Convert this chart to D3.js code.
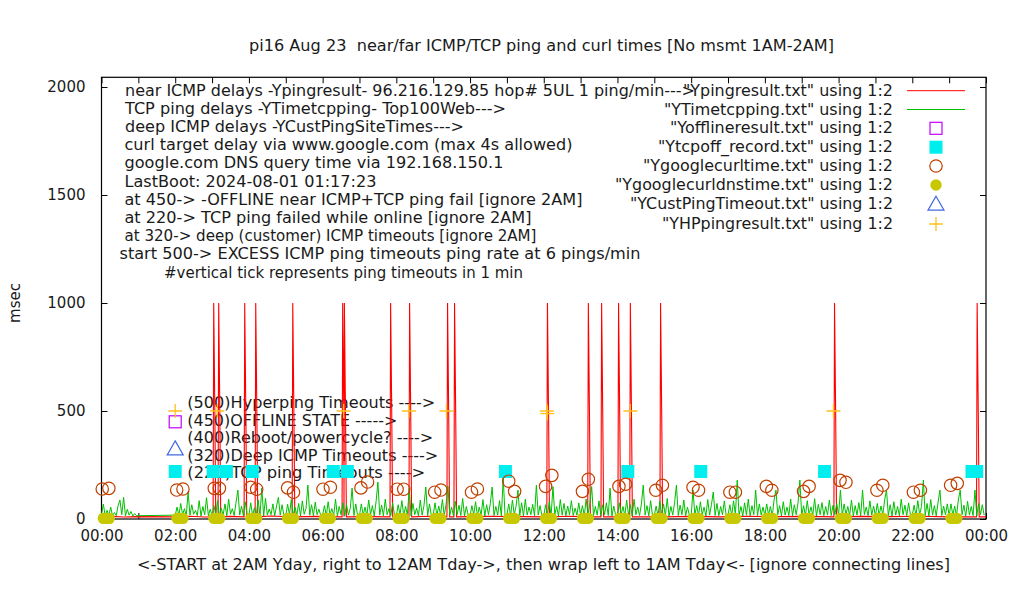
<!DOCTYPE html>
<html><head><meta charset="utf-8">
<script src="https://cdn.jsdelivr.net/npm/d3@7"></script>
<style>
body{margin:0;background:#fff}
svg{display:block}
text{font-family:"DejaVu Sans",sans-serif;font-size:15px;fill:#1a1a1a;white-space:pre}
</style>
</head><body><svg id="c" width="1020" height="600"></svg>
<script>
// ---------- DATA ----------
const titleText = "pi16 Aug 23  near/far ICMP/TCP ping and curl times [No msmt 1AM-2AM]";
const xLabelText = "<-START at 2AM Yday, right to 12AM Tday->, then wrap left to 1AM Tday<- [ignore connecting lines]";
const yLabelText = "msec";
const xTickLabels = ["00:00","02:00","04:00","06:00","08:00","10:00","12:00","14:00","16:00","18:00","20:00","22:00","00:00"];
const yTickValues = [0,500,1000,1500,2000];

const infoLines = [
  "near ICMP delays -Ypingresult- 96.216.129.85 hop# 5UL 1 ping/min--->",
  "TCP ping delays -YTimetcpping- Top100Web--->",
  "deep ICMP delays -YCustPingSiteTimes--->",
  "curl target delay via www.google.com (max 4s allowed)",
  "google.com DNS query time via 192.168.150.1",
  "LastBoot: 2024-08-01 01:17:23",
  "at 450-> -OFFLINE near ICMP+TCP ping fail [ignore 2AM]",
  "at 220-> TCP ping failed while online [ignore 2AM]",
  "at 320-> deep (customer) ICMP timeouts [ignore 2AM]",
  "start 500-> EXCESS ICMP ping timeouts ping rate at 6 pings/min",
  "#vertical tick represents ping timeouts in 1 min"
];
const legendNames = [
  "\"Ypingresult.txt\" using 1:2",
  "\"YTimetcpping.txt\" using 1:2",
  "\"Yofflineresult.txt\" using 1:2",
  "\"Ytcpoff_record.txt\" using 1:2",
  "\"Ygooglecurltime.txt\" using 1:2",
  "\"Ygooglecurldnstime.txt\" using 1:2",
  "\"YCustPingTimeout.txt\" using 1:2",
  "\"YHPpingresult.txt\" using 1:2"
];
const levelLabels = [
  "(500)Hyperping Timeouts ---->",
  "(450)OFFLINE STATE ----->",
  "(400)Reboot/powercycle? ---->",
  "(320)Deep ICMP Timeouts ---->",
  "(220)TCP ping Timeouts ---->"
];

// near ICMP ping delays [hour, msec]
const nearIcmp = [
 [0.00,10],[0.30,12],[0.60,9],[0.95,11],[2.00,10],[2.40,13],[2.80,9],
 [3.028,10],[3.045,1000],[3.075,500],[3.100,10],
 [3.163,10],[3.180,1000],[3.210,500],[3.235,10],
 [3.50,12],
 [3.869,10],[3.886,1000],[3.916,500],[3.941,10],
 [4.168,10],[4.185,1000],[4.215,500],[4.240,10],
 [4.60,14],
 [5.173,10],[5.190,1000],[5.220,500],[5.245,10],
 [5.80,12],
 [6.527,10],[6.544,1000],[6.574,500],[6.580,10],[6.590,1000],[6.620,500],[6.645,10],
 [7.20,11],
 [7.828,10],[7.845,1000],[7.875,500],[7.900,10],
 [8.343,10],[8.360,1000],[8.390,500],[8.415,10],
 [8.90,13],
 [9.373,10],[9.390,1000],[9.420,500],[9.445,10],
 [9.563,10],[9.580,1000],[9.610,500],[9.635,10],
 [10.50,12],[11.40,11],
 [12.083,10],[12.100,1000],[12.130,500],[12.155,10],
 [12.70,13],
 [13.193,10],[13.210,1000],[13.240,500],[13.265,10],
 [13.553,10],[13.570,1000],[13.600,500],[13.625,10],
 [14.013,10],[14.030,1000],[14.060,500],[14.085,10],
 [14.333,10],[14.350,1000],[14.380,500],[14.405,10],
 [15.153,10],[15.170,1000],[15.200,500],[15.225,10],
 [16.00,12],[16.80,10],[17.50,13],[18.30,11],[19.20,12],
 [19.873,10],[19.890,1000],[19.920,500],[19.945,10],
 [20.60,12],[21.40,11],[22.20,13],[23.00,10],
 [23.743,10],[23.760,1000],[23.790,500],[23.815,10],
 [24.00,10]
];

// TCP ping delays, one row per measured hour, samples every 3 minutes
const tcpHours = [0,2,3,4,5,6,7,8,9,10,11,12,13,14,15,16,17,18,19,20,21,22,23];
const tcpRows = [
 [22,69,15,40,18,55,14,30,16,62,88,20,100,15,45,18,35,14,25,15],
 [18,55,16,72,20,48,15,126,18,66,22,40,16,85,14,58,20,99,15,45],
 [16,62,20,85,14,50,18,70,15,92,22,48,16,76,134,18,60,15,80,20],
 [18,75,15,52,20,88,16,143,14,96,18,46,20,70,15,60,100,18,66,16],
 [15,68,20,90,16,55,18,72,14,84,22,50,157,18,66,15,78,20,45,16],
 [18,62,15,80,20,48,16,92,14,58,20,75,15,66,18,50,143,16,70,15],
 [16,70,18,55,15,88,20,62,14,80,171,18,65,15,92,20,48,16,75,18],
 [15,66,20,85,16,58,18,143,14,72,20,50,15,88,18,62,148,16,70,15],
 [18,75,15,60,20,90,16,68,152,18,55,15,82,20,64,16,95,14,58,18],
 [16,62,20,80,15,55,18,90,14,66,20,72,148,16,58,18,85,15,190,16],
 [18,70,15,88,20,60,134,16,75,14,92,18,55,20,68,15,157,18,62,16],
 [15,66,18,80,16,150,20,58,14,90,18,72,15,60,20,85,16,50,18,75],
 [18,62,15,92,20,70,150,16,58,18,84,15,66,20,75,16,143,14,60,18],
 [16,75,20,58,15,88,18,66,14,92,20,55,16,70,157,18,62,15,85,16],
 [18,60,15,82,20,70,16,95,14,58,18,76,157,16,64,20,88,15,55,18],
 [15,134,18,62,16,80,20,55,14,90,18,66,125,16,72,15,58,20,84,16],
 [18,66,15,84,20,180,16,58,14,75,18,92,15,62,20,134,16,70,18,55],
 [16,70,18,58,15,88,134,20,62,14,80,18,55,16,92,15,66,20,75,180],
 [16,62,15,85,20,56,18,94,14,68,20,76,15,58,18,88,16,64,20,72],
 [18,134,15,70,20,58,16,88,14,62,18,76,15,134,20,55,16,84,18,60],
 [15,72,18,60,20,88,134,16,66,14,80,18,58,15,92,20,64,16,75,18],
 [18,64,15,85,20,58,180,16,72,14,90,18,62,15,78,134,16,60,20,70],
 [16,70,18,60,15,88,134,20,64,14,82,18,58,16,134,15,72,20,66,18]
];

const offlineData = [[2.0,450]];
const tcpOffData = [[2.0,220],[3.03,220],[3.39,220],[4.09,220],[6.29,220],[6.67,220],[10.96,220],[14.28,220],[16.26,220],[19.62,220],[23.62,220],[23.75,220]];
const curlData = [[0.02,139],[0.20,142],[2.04,134],[2.21,139],[3.06,142],[3.20,142],[4.05,147],[4.21,138],[5.05,144],[5.21,124],[6.01,138],[6.21,147],[7.04,144],[7.22,171],[8.02,138],[8.20,138],[9.04,124],[9.21,134],[10.04,124],[10.20,139],[11.05,175],[11.21,128],[12.05,151],[12.22,202],[13.05,128],[13.21,184],[14.04,151],[14.22,161],[15.04,133],[15.22,156],[16.05,147],[16.20,133],[17.05,124],[17.20,124],[18.04,151],[18.19,133],[19.05,128],[19.20,151],[20.04,179],[20.20,170],[21.04,133],[21.20,156],[22.03,124],[22.22,133],[23.04,156],[23.22,165]];
const dnsData = [
 [0.05,3],[0.13,3],[0.21,3],[2.05,3],[2.13,3],[2.21,3],[3.05,3],[3.13,3],[3.21,3],
 [4.05,3],[4.13,3],[4.21,3],[5.05,3],[5.13,3],[5.21,3],[6.05,3],[6.13,3],[6.21,3],
 [7.05,3],[7.13,3],[7.21,3],[8.05,3],[8.13,3],[8.21,3],[9.05,3],[9.13,3],[9.21,3],
 [10.05,3],[10.13,3],[10.21,3],[11.05,3],[11.13,3],[11.21,3],[12.05,3],[12.13,3],[12.21,3],
 [13.05,3],[13.13,3],[13.21,3],[14.05,3],[14.13,3],[14.21,3],[15.05,3],[15.13,3],[15.21,3],
 [16.05,3],[16.13,3],[16.21,3],[17.05,3],[17.13,3],[17.21,3],[18.05,3],[18.13,3],[18.21,3],
 [19.05,3],[19.13,3],[19.21,3],[20.05,3],[20.13,3],[20.21,3],[21.05,3],[21.13,3],[21.21,3],
 [22.05,3],[22.13,3],[22.21,3],[23.05,3],[23.13,3],[23.21,3]
];
const custPingData = [[2.0,320]];
const hpData = [[2.0,500],[3.14,500],[6.57,500],[8.34,500],[9.36,500],[12.085,500],[12.10,488],[14.35,500],[19.86,500]];

// ---------- LAYOUT ----------
const L = 101.5, R = 986, T = 77.3, B = 519;
const svg = d3.select("#c");
const x = d3.scaleLinear().domain([0,24]).range([L,R]);
const y = d3.scaleLinear().domain([0,2045]).range([B,T]);

const C = {red:"#ff0000", green:"#00c000", mag:"#c000ff", cyan:"#00eeee", brown:"#c04000", olive:"#c8c800", blue:"#4169e1", gold:"#ffc020"};

function txt(g, xx, yy, s, len, anchor){
  const t = g.append("text").attr("x",xx).attr("y",yy).attr("dominant-baseline","central")
    .attr("text-anchor",anchor||"start").text(s);
  if(len){ t.attr("textLength",len).attr("lengthAdjust","spacingAndGlyphs"); }
  return t;
}

// title and axis labels
txt(svg, 541.5, 46, titleText, 585, "middle");
txt(svg, 543.5, 565, xLabelText, 813, "middle");
svg.append("text").attr("transform","translate(15,303) rotate(-90)").attr("text-anchor","middle")
  .attr("dominant-baseline","central").text(yLabelText);

// axes (ticks inward, mirrored)
const hours = d3.range(0,25);
const gx = svg.append("g").attr("transform",`translate(0,${B})`)
  .call(d3.axisBottom(x).tickValues(hours).tickSizeInner(-6).tickSizeOuter(0).tickPadding(11)
    .tickFormat(h => h%2===0 ? xTickLabels[h/2] : ""));
const gxt = svg.append("g").attr("transform",`translate(0,${T})`)
  .call(d3.axisTop(x).tickValues(hours).tickSizeInner(-6).tickSizeOuter(0).tickFormat(""));
const gy = svg.append("g").attr("transform",`translate(${L},0)`)
  .call(d3.axisLeft(y).tickValues(yTickValues).tickSizeInner(-6).tickSizeOuter(0).tickPadding(16).tickFormat(d3.format("d")));
const gyr = svg.append("g").attr("transform",`translate(${R},0)`)
  .call(d3.axisRight(y).tickValues(yTickValues).tickSizeInner(-6).tickSizeOuter(0).tickFormat(""));
[gx,gxt,gy,gyr].forEach(g=>{
  g.select(".domain").remove();
  g.selectAll("line").attr("stroke","#000");
  g.selectAll("text").attr("font-size",15).attr("font-family","DejaVu Sans, sans-serif").attr("fill","#1a1a1a");
});
svg.append("rect").attr("x",L).attr("y",T).attr("width",R-L).attr("height",B-T)
  .attr("fill","none").attr("stroke","#000").attr("stroke-width",1.2);

// info labels
const infoX = [125,125,125,124.5,124.5,124.5,124.5,124.5,124.5,119.5,164];
const infoW = [570,381,339,448,379,252,458,407,412,521,359];
infoLines.forEach((s,i)=> txt(svg, infoX[i], 90.5 + i*18.2, s, infoW[i]));

// level labels (near bottom)
const levelW = [248,210,246,251,238];
const levelY = [403.3,421.3,438.3,455.8,473];
levelLabels.forEach((s,i)=> txt(svg, 187.3, levelY[i], s, levelW[i]));

// legend
const legW = [210,229,223,235,250,278,263,231];
const legY = [90.7,109.5,128.3,147.2,166,185,204.2,224];
legendNames.forEach((s,i)=> txt(svg, 893, legY[i], s, legW[i], "end"));

// ---------- MARKS ----------
const lineGen = d3.line().x(d=>x(d[0])).y(d=>y(d[1]));
svg.append("path").datum(nearIcmp).attr("d",lineGen).attr("fill","none").attr("stroke",C.red).attr("stroke-width",1.1);

const tcpSeries = [];
tcpHours.forEach((h,r)=> tcpRows[r].forEach((v,i)=> tcpSeries.push([h + i*0.05, v])));
svg.append("path").datum(tcpSeries).attr("d",lineGen).attr("fill","none").attr("stroke",C.green).attr("stroke-width",1);

// marker drawers
function openSquare(g,cx,cy){ g.append("rect").attr("x",cx-6).attr("y",cy-6).attr("width",12).attr("height",12).attr("fill","none").attr("stroke",C.mag).attr("stroke-width",1.2); }
function fillSquare(g,cx,cy){ g.append("rect").attr("x",cx-6.5).attr("y",cy-6.5).attr("width",13).attr("height",13).attr("fill",C.cyan); }
function openCircle(g,cx,cy){ g.append("circle").attr("cx",cx).attr("cy",cy).attr("r",6.2).attr("fill","none").attr("stroke",C.brown).attr("stroke-width",1.2); }
function fillCircle(g,cx,cy){ g.append("circle").attr("cx",cx).attr("cy",cy).attr("r",5.7).attr("fill",C.olive); }
function triangle(g,cx,cy){ g.append("path").attr("d",`M${cx},${cy-9}L${cx+8},${cy+5}L${cx-8},${cy+5}Z`).attr("fill","none").attr("stroke",C.blue).attr("stroke-width",1.2); }
function plus(g,cx,cy){ g.append("path").attr("d",`M${cx-7},${cy}H${cx+7}M${cx},${cy-7}V${cy+7}`).attr("stroke",C.gold).attr("stroke-width",1.3); }

const gm = svg.append("g");
offlineData.forEach(d=>openSquare(gm,x(d[0]),y(d[1])));
tcpOffData.forEach(d=>fillSquare(gm,x(d[0]),y(d[1])));
curlData.forEach(d=>openCircle(gm,x(d[0]),y(d[1])));
dnsData.forEach(d=>fillCircle(gm,x(d[0]),y(d[1])));
custPingData.forEach(d=>triangle(gm,x(d[0]),y(d[1])));
hpData.forEach(d=>plus(gm,x(d[0]),y(d[1])));

// legend samples
const gl = svg.append("g");
gl.append("line").attr("x1",907).attr("x2",965).attr("y1",legY[0]).attr("y2",legY[0]).attr("stroke",C.red);
gl.append("line").attr("x1",907).attr("x2",965).attr("y1",legY[1]).attr("y2",legY[1]).attr("stroke",C.green);
openSquare(gl,936,legY[2]);
fillSquare(gl,936,legY[3]);
openCircle(gl,936,legY[4]);
fillCircle(gl,936,legY[5]);
triangle(gl,936,legY[6]+1);
plus(gl,936,legY[7]);
</script>
</body></html>
